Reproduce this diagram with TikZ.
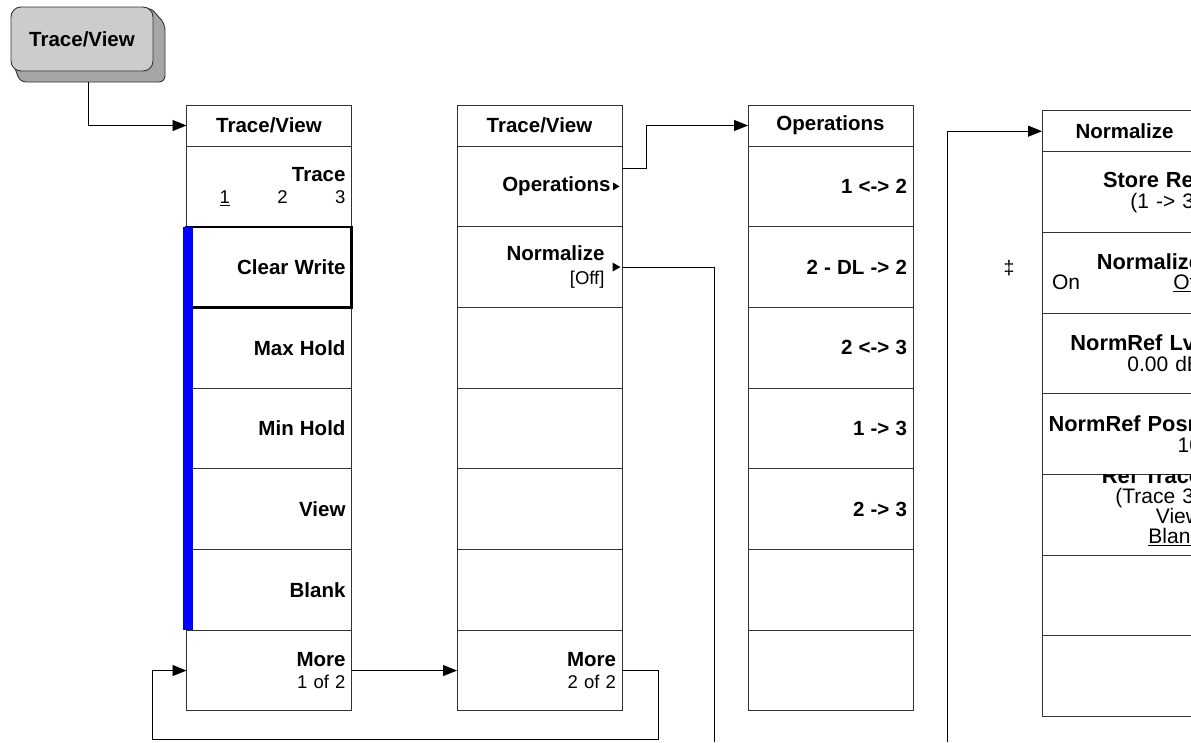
\documentclass[tikz,border=0pt]{standalone}
\usepackage{fontspec}
\setmainfont{Liberation Sans}
\usetikzlibrary{arrows.meta,positioning}
\definecolor{keyface}{HTML}{CCCCCC}
\definecolor{keyside}{HTML}{A6A6A6}
\definecolor{rule}{HTML}{333333}
\definecolor{bar}{HTML}{0000FF}
\tikzset{softkey/.style={draw=rule,fill=white,line width=.9pt,rectangle,outer sep=0pt,inner xsep=6pt,inner ysep=0pt,minimum width=165pt,minimum height=80.7pt,text width=153pt,align=right,font=\fontsize{18.5}{20}\selectfont},normkey/.style={softkey,font=\fontsize{21}{20}\selectfont},menutitle/.style={softkey,minimum height=41pt,align=center,font=\fontsize{20.5}{20}\selectfont\bfseries},hardkey/.style={draw=rule,fill=keyface,rounded corners=10pt,line width=.9pt,minimum width=142pt,minimum height=64pt,font=\fontsize{20.5}{20}\selectfont\bfseries},flow/.style={draw=black,line width=.9pt,-{Triangle[length=14pt,width=11pt]}},link/.style={draw=black,line width=.9pt}}
\newcommand\keyname[1]{{\fontsize{20.5}{20}\selectfont\bfseries #1}}
\newcommand\normname[1]{{\fontsize{21.8}{20}\selectfont\bfseries #1}}

\begin{document}
\begin{tikzpicture}[x=1pt,y=-1pt]
\clip (0,0) rectangle (1191,742);
% front panel key
\filldraw[fill=keyside,draw=rule,line width=.9pt,rounded corners=6pt] (12,60) -- (20,82) -- (165,82) -- (165,24) -- (150,7) -- cycle;
\node[hardkey] (hk) at (82,39) {Trace/View};
% menu 1 of 2
\node[menutitle,anchor=north west] (tv) at (186.5,105) {Trace/View};
\foreach \lbl [count=\i] in {{\keyname{Trace}\\[2.5pt]\underline{1}\hspace{47.5pt}2\hspace{47.5pt}3},{\keyname{Clear Write}},{\keyname{Max Hold}},{\keyname{Min Hold}},{\keyname{View}\hspace*{-5pt}},{\keyname{Blank}},{\keyname{More}\\[2.5pt]1 of 2}}
  \node[softkey,anchor=north west] (tv\i) at (186.5,{146+(\i-1)*80.7}) {\lbl};
\draw[line width=2.2pt] (tv2.north west) rectangle (tv2.south east);
\fill[bar] ([xshift=-3.2pt]tv2.north west) rectangle ([xshift=6.8pt]tv6.south west);
% menu 2 of 2
\node[menutitle,anchor=north west] (tw) at (457,105) {Trace/View};
\foreach \lbl [count=\i] in {{\keyname{Operations}\rule{5.5pt}{0pt}},{\keyname{Normalize}\rule{11.5pt}{0pt}\\[4pt]\relax[Off]\rule{11.5pt}{0pt}},{},{},{},{},{\keyname{More}\\[2.5pt]2 of 2}}
  \node[softkey,anchor=north west] (tw\i) at (457,{146+(\i-1)*80.7}) {\lbl};
\fill ([xshift=-9pt,yshift=4pt]tw1.east) -- ([xshift=-2.5pt]tw1.east) -- ([xshift=-9pt,yshift=-4pt]tw1.east) -- cycle;
\fill ([xshift=-9.5pt,yshift=4.5pt]tw2.east) -- ([xshift=-1.5pt]tw2.east) -- ([xshift=-9.5pt,yshift=-4.5pt]tw2.east) -- cycle;
% operations
\node[menutitle,anchor=north west] (op) at (748,105) {Operations};
\foreach \lbl [count=\i] in {{1 <-> 2},{2 - DL -> 2},{2 <-> 3},{1 -> 3},{2 -> 3},{},{}}
  \node[softkey,anchor=north west] (op\i) at (748,{146+(\i-1)*80.7}) {\keyname{\lbl}};
% normalize
\node[menutitle,anchor=north west] (nm) at (1042,110.7) {Normalize};
\foreach \lbl [count=\i] in {{\normname{Store Ref}\\[0.7pt](1 -> 3)},{\normname{Normalize}\\[0.7pt]\rule{4pt}{0pt}On\hfill\underline{Off}},{\normname{NormRef Lvl}\\[0.7pt]0.00 dB},{\normname{NormRef Posn}\\[0.7pt]10},{},{},{}}
  \node[normkey,anchor=north west] (nm\i) at (1042,{151.7+(\i-1)*80.7}) {\lbl};
\begin{scope}
\clip (nm5.north west) rectangle (nm5.south east);
\node[normkey,draw=none,fill=none] (rt) at ([yshift=8pt]nm5.center) {\normname{Ref Trace}\\(Trace 3)\\View\\\underline{Blank}};
\end{scope}
\node[font=\fontsize{19.5}{20}\selectfont] (dg) at (1009,268) {‡};
% connectors
\coordinate (drop) at (714,742);
\coordinate (rise) at (947,742);
\coordinate (back) at (152,739.5);
\draw[flow] ([xshift=6pt,yshift=-11pt]hk.south) |- (tv.west);
\draw[flow] ([yshift=17.5pt]tw1.east) -- ++(24pt,0) |- (op.west);
\draw[link] (tw2.east) -| (drop);
\draw[flow] (rise) |- (nm.west);
\draw[flow] (tv7.east) -- (tw7.west);
\draw[flow] (tw7.east) -- ++(36pt,0) |- (back) |- (tv7.west);
\end{tikzpicture}
\end{document}
